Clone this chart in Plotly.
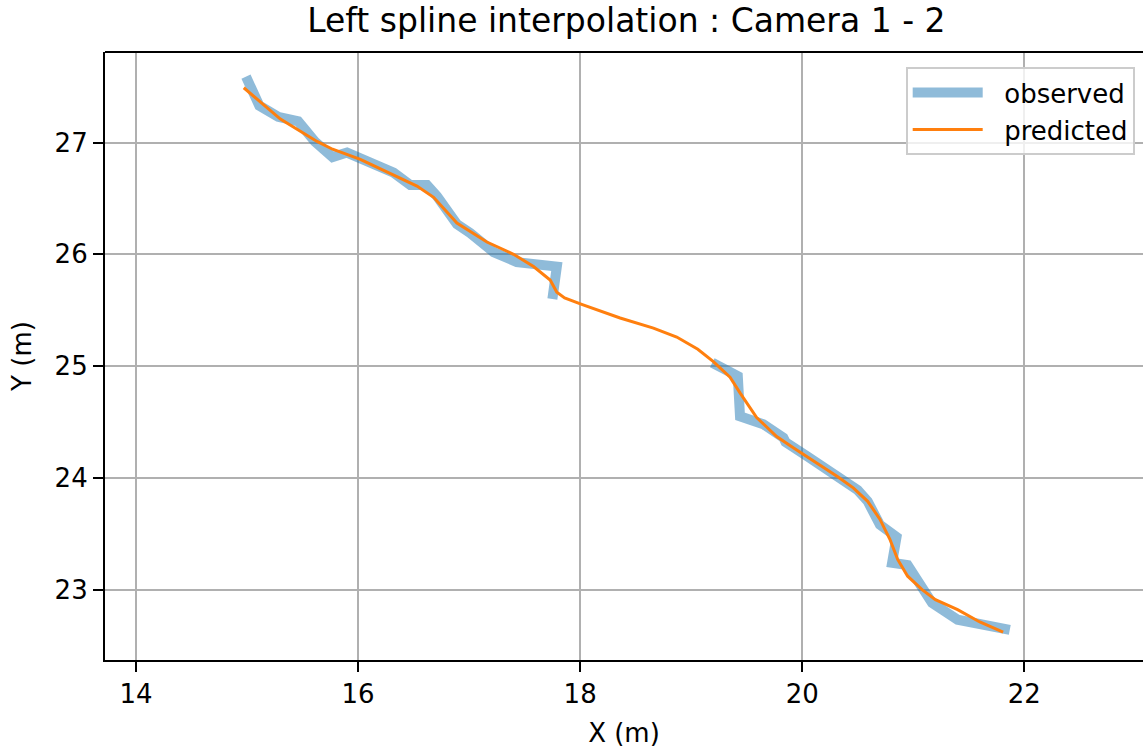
import plotly.graph_objects as go

# Observed trajectory, split into two camera segments (gap in between)
obs1_x = [14.99, 15.11, 15.28, 15.46, 15.61, 15.77, 15.90, 16.32, 16.47, 16.62,
          16.71, 16.89, 17.01, 17.22, 17.43, 17.79, 17.75]
obs1_y = [27.59, 27.33, 27.23, 27.19, 27.01, 26.87, 26.91, 26.73, 26.62, 26.62,
          26.52, 26.27, 26.19, 26.02, 25.93, 25.89, 25.60]
obs2_x = [19.19, 19.42, 19.44, 19.65, 19.83, 19.85, 20.05, 20.34, 20.50, 20.59,
          20.70, 20.85, 20.81, 20.95, 21.17, 21.40, 21.87]
obs2_y = [25.03, 24.91, 24.55, 24.48, 24.36, 24.32, 24.19, 23.99, 23.89, 23.79,
          23.58, 23.47, 23.24, 23.22, 22.88, 22.73, 22.64]

# Spline-interpolated trajectory
pred_x = [14.97, 15.12, 15.30, 15.63, 15.77, 16.02, 16.32, 16.53, 16.68, 16.89,
          17.16, 17.40, 17.58, 17.73, 17.79, 17.86, 18.02, 18.36, 18.66, 18.87,
          19.06, 19.20, 19.35, 19.44, 19.59, 19.77, 19.92, 20.32, 20.46, 20.59,
          20.70, 20.79, 20.86, 20.95, 21.08, 21.20, 21.40, 21.60, 21.81]
pred_y = [27.49, 27.36, 27.21, 27.01, 26.94, 26.85, 26.71, 26.61, 26.51, 26.28,
          26.11, 26.00, 25.89, 25.77, 25.66, 25.61, 25.55, 25.43, 25.34, 25.26,
          25.15, 25.04, 24.90, 24.76, 24.54, 24.37, 24.27, 24.01, 23.91, 23.79,
          23.63, 23.45, 23.27, 23.12, 23.00, 22.91, 22.82, 22.71, 22.62]

x_ticks = [14, 16, 18, 20, 22]
y_ticks = [23, 24, 25, 26, 27]

BLUE = "rgba(31,119,180,0.5)"
ORANGE = "#ff7f0e"
FONT = "DejaVu Sans"
TICK_SIZE = 26
GAP = "\u00a0\u00a0"  # spacing between legend sample and its label

fig = go.Figure()
fig.add_trace(go.Scatter(x=obs1_x + [None] + obs2_x, y=obs1_y + [None] + obs2_y,
                         mode="lines", name=GAP + "observed",
                         line=dict(color=BLUE, width=10), connectgaps=False))
fig.add_trace(go.Scatter(x=pred_x, y=pred_y, mode="lines", name=GAP + "predicted",
                         line=dict(color=ORANGE, width=3)))

axis_common = dict(
    showgrid=True, gridcolor="#b0b0b0", gridwidth=2,
    showline=True, linecolor="black", linewidth=2.2,
    ticks="outside", ticklen=10, tickwidth=2.2, tickcolor="black",
    tickfont=dict(family=FONT, size=TICK_SIZE, color="black"),
    zeroline=False, mirror=False,
)

fig.update_layout(
    width=1143, height=749,
    margin=dict(l=105, r=0, t=52, b=89),
    paper_bgcolor="white", plot_bgcolor="white",
    font=dict(family=FONT, size=TICK_SIZE, color="black"),
    title=dict(text="Left spline interpolation : Camera 1 - 2",
               x=0.548, xanchor="center", y=0.988, yanchor="top",
               font=dict(family=FONT, size=33, color="black")),
    xaxis=dict(range=[13.72, 23.07], tickvals=x_ticks,
               title=dict(text="X (m)", font=dict(family=FONT, size=TICK_SIZE), standoff=16),
               **axis_common),
    yaxis=dict(range=[22.37, 27.81], tickvals=y_ticks,
               title=dict(text="Y (m)", font=dict(family=FONT, size=TICK_SIZE), standoff=16),
               **axis_common),
    legend=dict(x=0.992, y=0.975, xanchor="right", yanchor="top",
                bgcolor="rgba(255,255,255,0.8)", bordercolor="#cccccc", borderwidth=2,
                font=dict(family=FONT, size=TICK_SIZE, color="black"),
                itemwidth=70),
    showlegend=True,
)

# Top border of the axes frame
fig.add_shape(type="line", xref="paper", yref="paper", x0=0, x1=1, y0=1, y1=1,
              line=dict(color="black", width=2.2))

fig.write_html("out.html")
